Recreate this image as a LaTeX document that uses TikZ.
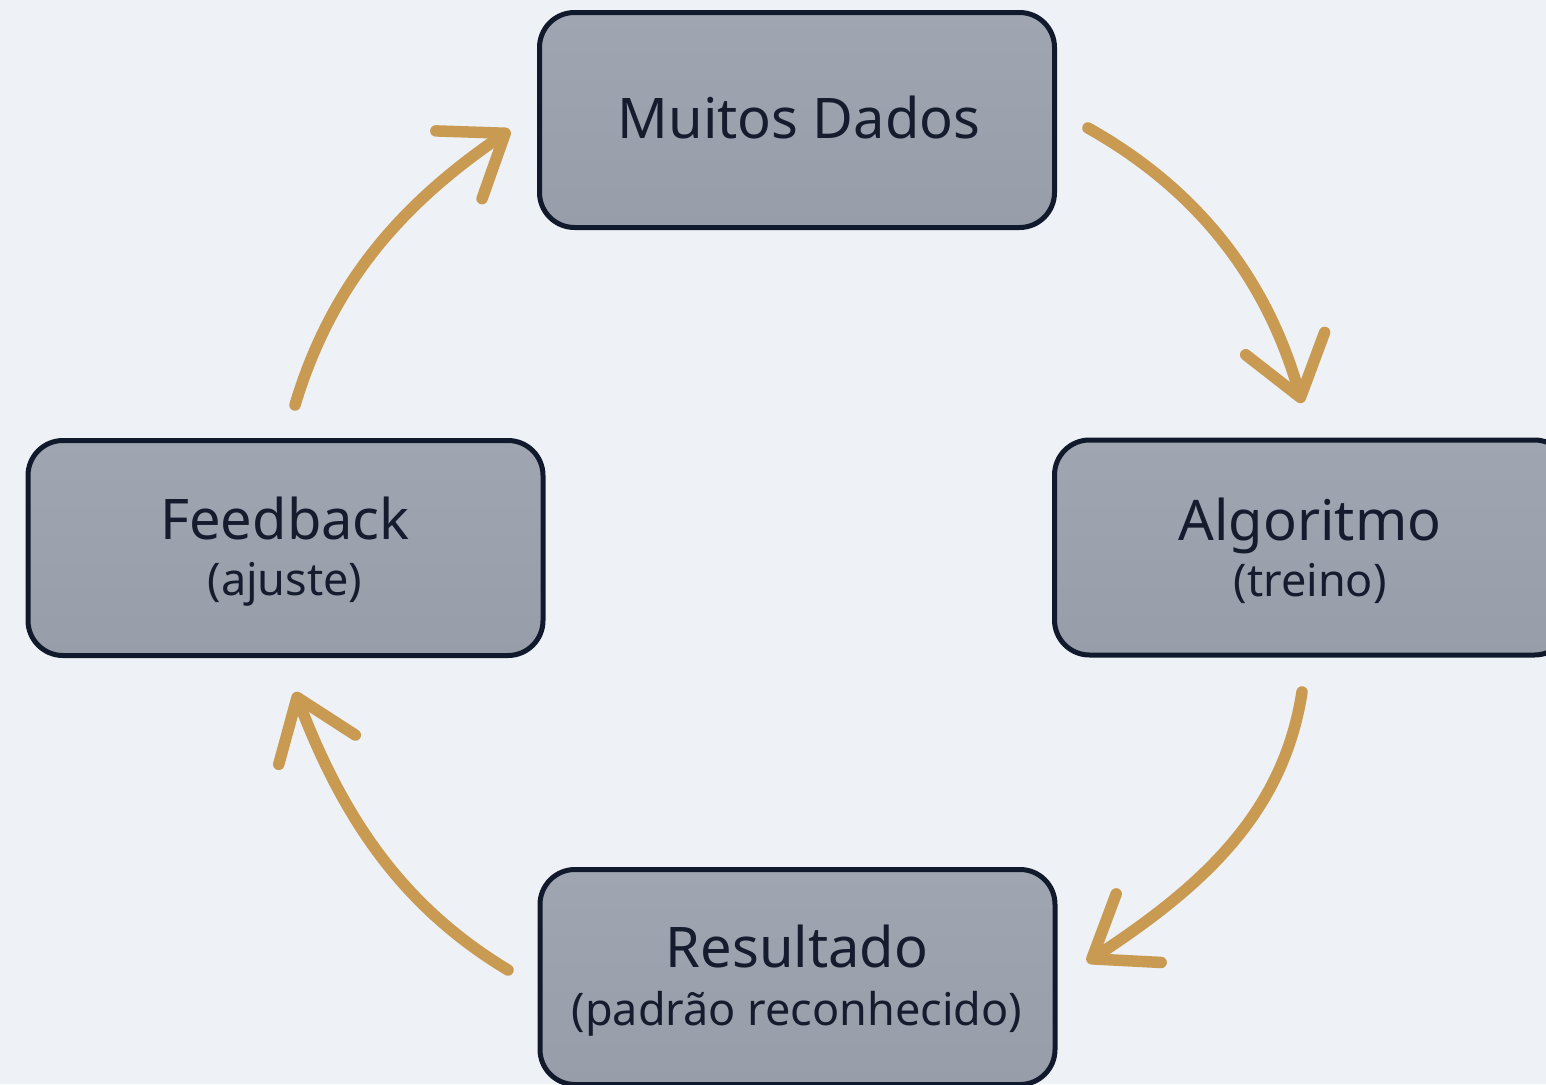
\documentclass[tikz,border=0pt]{standalone}
\usepackage{fontspec}
\setmainfont{Noto Sans}
\usetikzlibrary{arrows.meta}
\definecolor{bg}{HTML}{EEF1F5}
\definecolor{boxtop}{HTML}{A0A6B1}
\definecolor{boxbot}{HTML}{979DA9}
\definecolor{boxline}{HTML}{111A2C}
\definecolor{ink}{HTML}{151C2E}
\definecolor{gold}{HTML}{C99B52}
\begin{document}
\begin{tikzpicture}[x=1pt,y=-1pt,
  box/.style={draw=boxline, line width=5pt, rounded corners=35pt, top color=boxtop, bottom color=boxbot, minimum width=515pt, minimum height=215pt, inner sep=0pt},
  maintext/.style={anchor=base, text=ink, font=\fontsize{56}{60}\selectfont, inner sep=0pt},
  subtext/.style={anchor=base, text=ink, font=\fontsize{45}{50}\selectfont, inner sep=0pt},
  flow/.style={draw=gold, line width=11.5pt, line cap=round, -{Straight Barb[length=56pt,width=82pt,round]}}]
\useasboundingbox (0,0) rectangle (1546,1084);
\fill[bg] (0,0) rectangle (1546,1084);
% boxes
\node[box] (dados) at (797,120) {};
\node[box] (feedback) at (285.5,548) {};
\node[box] (algoritmo) at (1312,547.5) {};
\node[box] (resultado) at (797.5,977) {};
% texts
\node[maintext] (tdados) at (799,138) {Muitos Dados};
\node[maintext] (tfeed) at (285,539) {Feedback};
\node[subtext] (tfeed2) at (285,595) {(ajuste)};
\node[maintext] (talg) at (1310,540) {Algoritmo};
\node[subtext] (talg2) at (1310,596) {(treino)};
\node[maintext] (tres) at (797,967) {Resultado};
\node[subtext] (tres2) at (797,1025) {(padrão reconhecido)};
% arrow end points
\coordinate (a1s) at (1088,128);
\coordinate (a1e) at (1302,403);
\coordinate (a2s) at (1302,692);
\coordinate (a2e) at (1087,962);
\coordinate (a3s) at (508,970);
\coordinate (a3e) at (295,692);
\coordinate (a4s) at (295,405);
\coordinate (a4e) at (510,130);
% arrows
\draw[flow] (a1s) .. controls (1195,188) and (1266,276) .. (a1e);
\draw[flow] (a2s) .. controls (1283,815) and (1200,888) .. (a2e);
\draw[flow] (a3s) .. controls (400,905) and (342,815) .. (a3e);
\draw[flow] (a4s) .. controls (331,285) and (400,205) .. (a4e);
\end{tikzpicture}
\end{document}
